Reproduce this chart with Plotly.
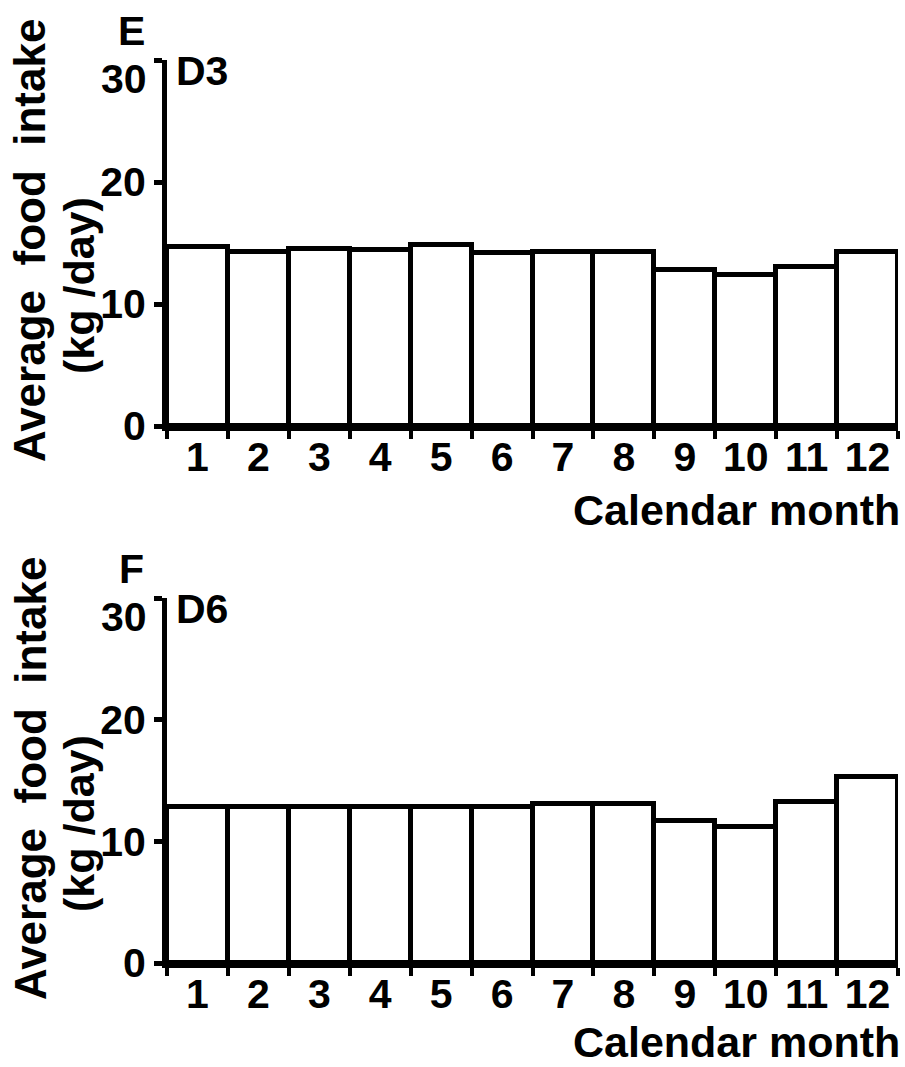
import plotly.graph_objects as go

# Monthly average food intake (kg/day) for two animals
months = list(range(1, 13))
month_labels = [str(m) for m in months]
d3_intake = [14.7, 14.3, 14.5, 14.45, 14.8, 14.2, 14.3, 14.3, 12.75, 12.4, 13.0, 14.3]
d6_intake = [12.8, 12.8, 12.8, 12.8, 12.8, 12.8, 13.1, 13.1, 11.7, 11.2, 13.2, 15.3]
y_ticks = [0, 10, 20, 30]
y_tick_labels = ["0", "10", "20", ""]   # the top label is placed separately, just below its tick
top_label = "30"
panels = [("E", "D3", d3_intake), ("F", "D6", d6_intake)]

W, H = 905, 1067
FONT = "Liberation Sans"
TICK_SIZE = 41
TITLE_SIZE = 43
LW = 5

# pixel geometry of the two plot areas
X0, X1 = 167, 898
rows = [(60, 426), (598, 963)]
# vertical offset of the x-axis title below each plot area
xtitle_offset = [84, 79]


def px(x):
    return x / W


def py(y):
    return 1 - y / H


def font(size):
    return dict(family=FONT, size=size, color="black", weight="bold")


fig = go.Figure()
annotations = []

for i, (letter, animal, values) in enumerate(panels):
    top, bot = rows[i]
    xa = "x" if i == 0 else f"x{i + 1}"
    ya = "y" if i == 0 else f"y{i + 1}"
    fig.add_trace(go.Bar(
        x=months, y=values, width=1.0,
        marker=dict(color="white", line=dict(color="black", width=LW)),
        xaxis=xa, yaxis=ya, showlegend=False, hoverinfo="x+y",
    ))
    xkey = "xaxis" if i == 0 else f"xaxis{i + 1}"
    ykey = "yaxis" if i == 0 else f"yaxis{i + 1}"
    fig.layout[xkey] = dict(
        domain=[px(X0), px(X1)], anchor=ya, range=[0.5, 12.5],
        tickvals=months, ticktext=month_labels, ticks="", ticklen=0,
        showline=True, linewidth=LW, linecolor="black", automargin=False,
        showgrid=False, zeroline=False, ticklabelstandoff=-9,
        tickfont=font(TICK_SIZE),
        minor=dict(tickvals=[m - 0.5 for m in months] + [12.5], ticks="outside",
                   ticklen=8, tickwidth=4, tickcolor="black", showgrid=False),
    )
    fig.layout[ykey] = dict(
        domain=[py(bot), py(top)], anchor=xa, range=[0, 30],
        tickvals=y_ticks, ticktext=y_tick_labels,
        ticks="outside", ticklen=8, tickwidth=5, tickcolor="black",
        showline=True, linewidth=LW, linecolor="black", automargin=False,
        showgrid=False, zeroline=False, ticklabelstandoff=0,
        tickfont=font(TICK_SIZE),
    )

    # top tick label, sitting just under the axis end
    annotations.append(dict(text=top_label, x=px(149), y=py(top + 19), xref="paper", yref="paper",
                            xanchor="right", yanchor="middle", showarrow=False,
                            font=font(TICK_SIZE)))
    # panel letter and animal id
    annotations.append(dict(text=letter, x=px(131), y=py(top - 29), xref="paper", yref="paper",
                            xanchor="center", yanchor="middle", showarrow=False,
                            font=font(TICK_SIZE)))
    annotations.append(dict(text=animal, x=px(174), y=py(top + 11), xref="paper", yref="paper",
                            xanchor="left", yanchor="middle", showarrow=False,
                            font=font(TICK_SIZE)))
    # y axis titles (two lines, rotated)
    annotations.append(dict(text="Average\u00a0\u00a0food\u00a0\u00a0intake", x=px(30), y=py(top + 181),
                            xref="paper", yref="paper", xanchor="center", yanchor="middle",
                            textangle=-90, showarrow=False, font=font(44)))
    annotations.append(dict(text="(kg /day)", x=px(79), y=py(top + 226),
                            xref="paper", yref="paper", xanchor="center", yanchor="middle",
                            textangle=-90, showarrow=False, font=font(TITLE_SIZE)))
    # x axis title
    annotations.append(dict(text="Calendar month", x=px(902), y=py(bot + xtitle_offset[i]),
                            xref="paper", yref="paper", xanchor="right", yanchor="middle",
                            showarrow=False, font=font(TITLE_SIZE)))

fig.update_layout(
    width=W, height=H, margin=dict(l=0, r=0, t=0, b=0, autoexpand=False),
    paper_bgcolor="white", plot_bgcolor="white",
    annotations=annotations, bargap=0,
)

fig.write_html("out.html")
